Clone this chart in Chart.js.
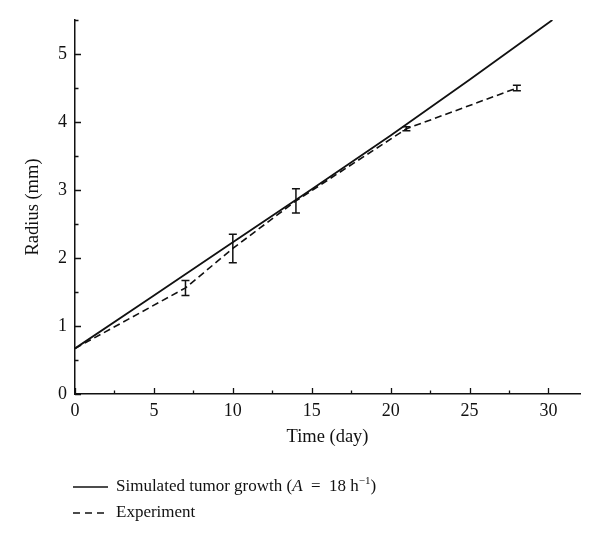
<!DOCTYPE html>
<html>
<head>
<meta charset="utf-8">
<script src="https://cdn.jsdelivr.net/npm/chart.js@4/dist/chart.umd.min.js"></script>
<style>
  body { margin: 0; background: #fff; }
  #wrap { position: relative; width: 600px; height: 543px; }
  #legend { position: absolute; left: 73px; top: 473px; font-family: "Liberation Serif", serif; font-size: 17px; color: #111; }
  #legend div { display: block; height: 26px; line-height: 26px; white-space: nowrap; }
  #legend svg { vertical-align: middle; margin-right: 8px; }
  sup { font-size: 11px; line-height: 0; }
</style>
</head>
<body>
<div id="wrap">
  <canvas id="tumorChart" width="600" height="543"></canvas>
  <div id="legend">
    <div><svg width="35" height="4"><line x1="0" y1="2" x2="35" y2="2" stroke="#111" stroke-width="1.7"/></svg>Simulated tumor growth (<i>A</i> &nbsp;=&nbsp; 18 h<sup>−1</sup>)</div>
    <div><svg width="35" height="4"><line x1="0" y1="2" x2="35" y2="2" stroke="#111" stroke-width="1.6" stroke-dasharray="7,5"/></svg>Experiment</div>
  </div>
</div>
<script>
// simulated curve (day, radius mm)
const simDays = [0, 5, 10, 15, 20, 25, 30.25];
const simRadius = [0.67, 1.45, 2.23, 3.01, 3.8, 4.62, 5.5];

// experiment measurements with error bars
const expDays = [0, 7, 10, 14, 21, 28];
const expRadius = [0.67, 1.56, 2.14, 2.84, 3.9, 4.5];
const expLow = [null, 1.45, 1.93, 2.66, 3.87, 4.46];
const expHigh = [null, 1.67, 2.35, 3.02, 3.93, 4.54];

const ink = '#111';
const serif = 'Liberation Serif';

// error bars drawn on experiment points
const errorBars = {
    id: 'errorBars',
    afterDatasetsDraw(chart) {
        const c = chart.ctx;
        const xs = chart.scales.x, ys = chart.scales.y;
        c.save();
        c.strokeStyle = ink;
        c.lineWidth = 1.5;
        expDays.forEach((d, i) => {
            if (expLow[i] == null) return;
            const px = xs.getPixelForValue(d);
            const lo = ys.getPixelForValue(expLow[i]);
            const hi = ys.getPixelForValue(expHigh[i]);
            c.beginPath();
            c.moveTo(px, lo); c.lineTo(px, hi);
            c.moveTo(px - 4, lo); c.lineTo(px + 4, lo);
            c.moveTo(px - 4, hi); c.lineTo(px + 4, hi);
            c.stroke();
        });
        c.restore();
    }
};

// tick marks pointing into the plot
const innerTicks = {
    id: 'innerTicks',
    afterDraw(chart) {
        const c = chart.ctx;
        const xs = chart.scales.x, ys = chart.scales.y;
        const area = chart.chartArea;
        c.save();
        c.strokeStyle = ink;
        c.lineWidth = 1.3;
        c.beginPath();
        xs.ticks.forEach(t => {
            const px = Math.round(xs.getPixelForValue(t.value)) + 0.5;
            const len = t.value % 5 === 0 ? 6 : 3.5;
            c.moveTo(px, area.bottom); c.lineTo(px, area.bottom - len);
        });
        ys.ticks.forEach(t => {
            const py = Math.round(ys.getPixelForValue(t.value)) + 0.5;
            const len = Number.isInteger(t.value) ? 6 : 3.5;
            c.moveTo(area.left, py); c.lineTo(area.left + len, py);
        });
        c.stroke();
        c.restore();
    }
};

new Chart(document.getElementById('tumorChart'), {
    type: 'line',
    data: {
        datasets: [{
            label: 'Simulated tumor growth',
            data: simDays.map((d, i) => ({ x: d, y: simRadius[i] })),
            borderColor: ink,
            borderWidth: 1.8,
            pointRadius: 0,
            tension: 0
        }, {
            label: 'Experiment',
            data: expDays.map((d, i) => ({ x: d, y: expRadius[i] })),
            borderColor: ink,
            borderWidth: 1.6,
            borderDash: [7, 4],
            pointRadius: 0,
            tension: 0
        }]
    },
    options: {
        responsive: false,
        animation: false,
        layout: { padding: { top: 20, right: 20, bottom: 89, left: 0 } },
        plugins: { legend: { display: false }, tooltip: { enabled: false } },
        scales: {
            x: {
                type: 'linear',
                min: 0, max: 32,
                afterFit: s => { s.height = 60; },
                border: { display: true, color: ink, width: 1.5 },
                grid: { drawOnChartArea: false, drawTicks: false },
                ticks: {
                    stepSize: 2.5, includeBounds: false, autoSkip: false, maxRotation: 0,
                    padding: 6, color: ink,
                    font: { family: serif, size: 18 },
                    callback: v => (v % 5 === 0 ? v : '')
                },
                title: {
                    display: true, text: 'Time (day)', color: ink,
                    font: { family: serif, size: 18.5 },
                    padding: { top: 0, bottom: 6 }
                }
            },
            y: {
                min: 0, max: 5.5,
                afterFit: s => { s.width = 75; },
                border: { display: true, color: ink, width: 1.5 },
                grid: { drawOnChartArea: false, drawTicks: false },
                ticks: {
                    stepSize: 0.5, autoSkip: false,
                    padding: 8, color: ink,
                    font: { family: serif, size: 18 },
                    callback: v => (Number.isInteger(v) ? v : '')
                },
                title: {
                    display: true, text: 'Radius (mm)', color: ink,
                    font: { family: serif, size: 18.5 },
                    padding: { top: 22, bottom: 0 }
                }
            }
        }
    },
    plugins: [errorBars, innerTicks]
});
</script>
</body>
</html>
